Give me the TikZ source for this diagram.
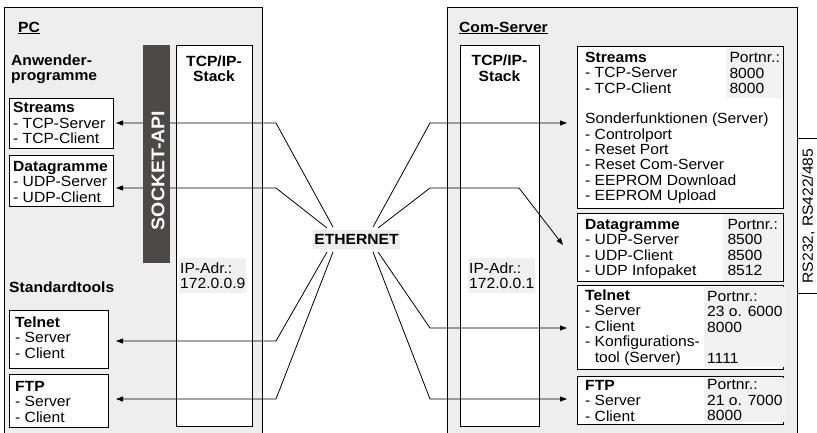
\documentclass[tikz,border=0pt]{standalone}
\usepackage{fontspec}
\setmainfont[FakeStretch=1.06]{Liberation Sans}
\usetikzlibrary{arrows.meta,fit}
\definecolor{panel}{HTML}{EEEEEE}
\definecolor{sockcol}{HTML}{4E4949}
\definecolor{ipbg}{HTML}{F0F0F0}
\definecolor{portbg}{HTML}{F2F2F2}
\newcommand\myfs{\fontsize{14.8}{15.5}\selectfont}
\begin{document}
\begin{tikzpicture}[x=1bp,y=-1bp,
  panelbox/.style={draw, line width=0.8pt, fill=panel, inner sep=0pt, outer sep=0pt},
  wbox/.style={draw, line width=0.8pt, fill=white, inner sep=0pt, outer sep=0pt},
  bgfill/.style={fill=#1, inner sep=0pt, outer sep=0pt},
  txt/.style={font=\myfs, align=left, inner sep=0pt, anchor=base west},
  ctxt/.style={font=\myfs\bfseries, align=center, inner sep=0pt, anchor=base},
  bgtxt/.style={font=\myfs, align=left, inner xsep=1bp, inner ysep=0pt, anchor=north west, fill=#1},
  arr/.style={line width=0.8pt, -{Triangle[length=7bp,width=5bp]}}
]
\useasboundingbox (0,0) rectangle (817,432);
\clip (0,0) rectangle (817,432);

% panels
\node[panelbox, fit={(4,7) (262,445)}] (pc) {};
\node[panelbox, fit={(447,7) (797,445)}] (com) {};
\node[wbox, fit={(797,138) (830,293)}] (rs) {};

% stacks
\node[wbox, fit={(176,45) (252,426)}] (lstack) {};
\node[wbox, fit={(460,45) (539,426)}] (rstack) {};

% left modules
\node[wbox, fit={(9,98) (113,148)}] (lstreams) {};
\node[wbox, fit={(9,155) (113,206)}] (ldgram) {};
\node[wbox, fit={(9,310) (108,368)}] (ltelnet) {};
\node[wbox, fit={(9,374) (108,427)}] (lftp) {};

% right modules
\node[wbox, fit={(577,46) (783,208)}] (rstreams) {};
\node[wbox, fit={(577,213) (783,281)}] (rdgram) {};
\node[wbox, fit={(577,285) (783,369)}] (rtelnet) {};
\node[wbox, fit={(577,376) (783,424)}] (rftp) {};

% IP address labels
\node[bgtxt=ipbg, minimum width=67bp, minimum height=35bp] (lip) at (179,258) {IP-Adr.:\\172.0.0.9};
\node[bgtxt=ipbg, minimum width=67bp, minimum height=35bp] (rip) at (468,258) {IP-Adr.:\\172.0.0.1};

% port numbers
\node[bgtxt=portbg, minimum width=57bp, minimum height=50bp, inner xsep=2bp] (pstreams) at (726,48) {Portnr.:\\8000\\8000};
\node[bgtxt=portbg, minimum width=59bp, minimum height=67bp, inner xsep=3bp] (pdgram) at (723,214) {Portnr.:\\8500\\8500\\8512};
\node[bgtxt=portbg, minimum width=77bp, minimum height=80bp, inner xsep=3bp] (ptelnet) at (704,287) {Portnr.:\\23 o. 6000\\8000\\\mbox{}\\1111};
\node[bgtxt=portbg, minimum width=77bp, minimum height=44bp, inner xsep=3bp] (pftp) at (704,378) {Portnr.:\\21 o. 7000\\8000};

% ETHERNET
\node[fill=panel, inner sep=0pt, minimum width=87bp, minimum height=19bp, font=\myfs\bfseries] (eth) at (356.5,239.5) {ETHERNET};

% connector coordinates
\coordinate (l1s) at (333,227); \coordinate (l1b) at (276,123); \coordinate (l1e) at (116,123);
\coordinate (l2s) at (327,228); \coordinate (l2b) at (276,188); \coordinate (l2e) at (116,188);
\coordinate (l3s) at (327,252); \coordinate (l3b) at (276,341); \coordinate (l3e) at (116,341);
\coordinate (l4s) at (333,252); \coordinate (l4b) at (276,399); \coordinate (l4e) at (116,399);
\coordinate (r1s) at (373,227); \coordinate (r1b) at (430,123); \coordinate (r1e) at (567,123);
\coordinate (r2s) at (378,228); \coordinate (r2b) at (430,188); \coordinate (r2c) at (519,188); \coordinate (r2e) at (563,245);
\coordinate (r3s) at (378,252); \coordinate (r3b) at (430,328); \coordinate (r3e) at (567,328);
\coordinate (r4s) at (373,252); \coordinate (r4b) at (430,399); \coordinate (r4e) at (567,399);

\draw[arr] (l1s) -- (l1b) -- (l1e);
\draw[arr] (l2s) -- (l2b) -- (l2e);
\draw[arr] (l3s) -- (l3b) -- (l3e);
\draw[arr] (l4s) -- (l4b) -- (l4e);
\draw[arr] (r1s) -- (r1b) -- (r1e);
\draw[arr] (r2s) -- (r2b) -- (r2c) -- (r2e);
\draw[arr] (r3s) -- (r3b) -- (r3e);
\draw[arr] (r4s) -- (r4b) -- (r4e);

% socket API bar
\node[bgfill=sockcol, fit={(143,45) (170,263)}] (sock) {};
\node[rotate=90, text=white, inner sep=0pt, font=\fontsize{18.5}{20}\selectfont\bfseries] (socktxt) at (158,170.5) {SOCKET-API};

% RS text
\node[rotate=90, inner sep=0pt, font=\myfs] (rstxt) at (808.5,216) {RS232, RS422/485};

% texts (anchor = baseline of the last line)
\node[txt] (pctxt) at (18,32) {\textbf{\underline{PC}}};
\node[txt, font=\myfs\bfseries] (anw) at (11,80.5) {Anwender-\\programme};
\node[ctxt] (lstacktxt) at (214,81.5) {TCP/IP-\\Stack};
\node[txt] (lstreamstxt) at (13,143.5) {\textbf{Streams}\\- TCP-Server\\- TCP-Client};
\node[txt] (ldgramtxt) at (13,202) {\textbf{Datagramme}\\- UDP-Server\\- UDP-Client};
\node[txt, font=\myfs\bfseries] (stdt) at (9,292) {Standardtools};
\node[txt] (ltelnettxt) at (15,358) {\textbf{Telnet}\\- Server\\- Client};
\node[txt] (lftptxt) at (15,422) {\textbf{FTP}\\- Server\\- Client};

\node[txt] (comtxt) at (459,32) {\textbf{\underline{Com-Server}}};
\node[ctxt] (rstacktxt) at (499.5,81) {TCP/IP-\\Stack};
\node[txt, font=\fontsize{14.8}{15.4}\selectfont] (rstreamstxt) at (585,200.5) {\textbf{Streams}\\- TCP-Server\\- TCP-Client\\\mbox{}\\Sonderfunktionen (Server)\\- Controlport\\- Reset Port\\- Reset Com-Server\\- EEPROM Download\\- EEPROM Upload};
\node[txt] (rdgramtxt) at (585,275.5) {\textbf{Datagramme}\\- UDP-Server\\- UDP-Client\\- UDP Infopaket};
\node[txt] (rtelnettxt) at (585,362) {\textbf{Telnet}\\- Server\\- Client\\- Konfigurations-\\\phantom{- }tool (Server)};
\node[txt] (rftptxt) at (585,421) {\textbf{FTP}\\- Server\\- Client};
\end{tikzpicture}
\end{document}
